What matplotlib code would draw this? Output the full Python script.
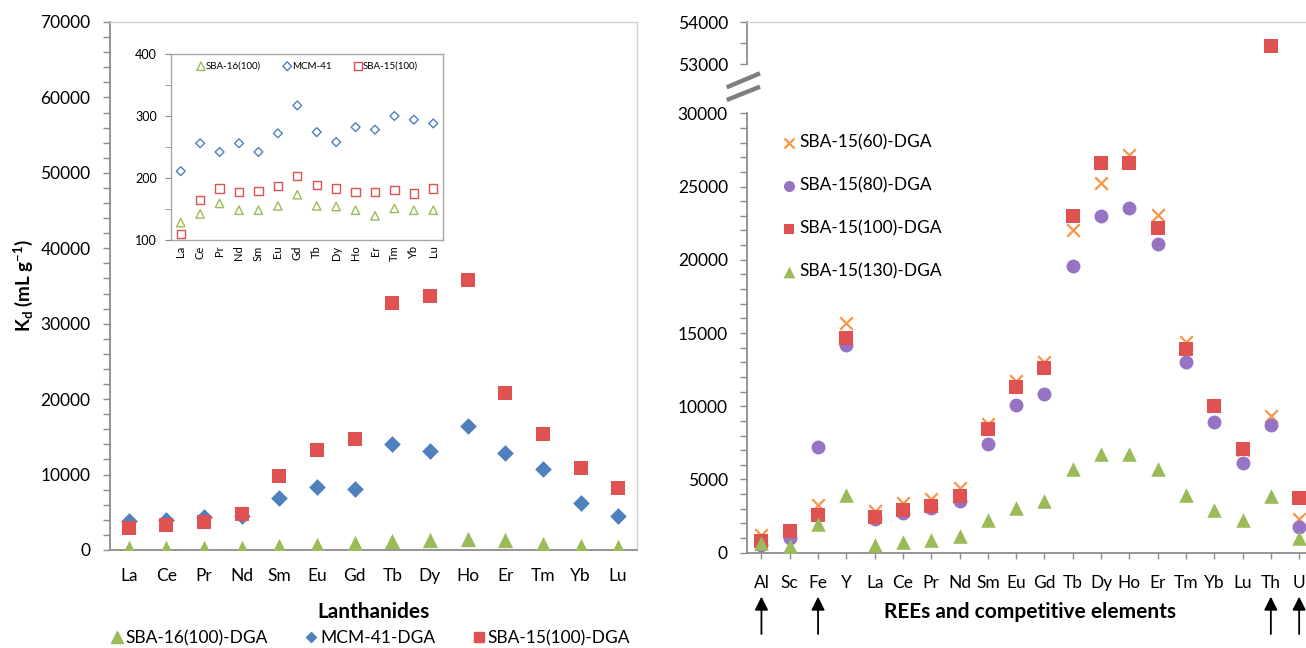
import matplotlib
matplotlib.use('Agg')
import matplotlib.pyplot as plt
from matplotlib.ticker import MultipleLocator
from matplotlib.lines import Line2D

plt.rcParams['font.family'] = ['Lato', 'DejaVu Sans']
plt.rcParams['mathtext.fontset'] = 'custom'
plt.rcParams['mathtext.rm'] = 'Lato'
plt.rcParams['mathtext.bf'] = 'Lato:bold'
plt.rcParams['mathtext.it'] = 'Lato:italic'

# ---------------- data ----------------
lanthanides = ['La', 'Ce', 'Pr', 'Nd', 'Sm', 'Eu', 'Gd', 'Tb', 'Dy', 'Ho', 'Er', 'Tm', 'Yb', 'Lu']
sba16_100_dga = [300, 300, 300, 300, 530, 700, 880, 1190, 1330, 1500, 1370, 840, 570, 400]
mcm41_dga = [3900, 4000, 4400, 4500, 6850, 8320, 8050, 14020, 13170, 16490, 12910, 10750, 6190, 4550]
sba15_100_dga = [2880, 3280, 3760, 4730, 9820, 13220, 14680, 32720, 33650, 35770, 20830, 15350, 10920, 8180]

inset_sba16 = [128, 142, 159, 148, 148, 155, 173, 155, 154, 148, 139, 151, 148, 148]
inset_mcm41 = [211, 256, 242, 256, 242, 272, 317, 274, 258, 282, 278, 300, 294, 288]
inset_sba15 = [110, 165, 183, 177, 179, 187, 203, 189, 183, 177, 177, 181, 175, 183]

elements = ['Al', 'Sc', 'Fe', 'Y', 'La', 'Ce', 'Pr', 'Nd', 'Sm', 'Eu', 'Gd', 'Tb', 'Dy', 'Ho',
            'Er', 'Tm', 'Yb', 'Lu', 'Th', 'U']
sba15_60 = [1200, 1300, 3270, 15680, 2860, 3380, 3650, 4400, 8800, 11730, 13010, 22050, 25250,
            27150, 23040, 14370, 10000, 7000, 9360, 2320]
sba15_80 = [500, 1000, 7220, 14160, 2300, 2700, 3050, 3500, 7400, 10100, 10830, 19570, 22990,
            23560, 21100, 13010, 8950, 6140, 8730, 1740]
sba15_100 = [790, 1470, 2590, 14660, 2410, 2890, 3160, 3900, 8460, 11340, 12610, 22970, 26620,
             26620, 22170, 13940, 10040, 7060, 53440, 3720]
sba15_130 = [680, 450, 1960, 3950, 520, 740, 900, 1130, 2260, 3050, 3500, 5710, 6720, 6720,
             5710, 3950, 2890, 2210, 3900, 1020]
arrow_elements = ['Al', 'Fe', 'Th', 'U']

# ---------------- styles ----------------
GREEN = '#9BBB59'
BLUE = '#4F81BD'
RED = '#E05252'
PURPLE = '#9673C3'
ORANGE = '#F79646'
DARK_SPINE = '#8C8C8C'
LIGHT_SPINE = '#D0D0D0'

W, H = 1306, 648
fig = plt.figure(figsize=(W / 100, H / 100), dpi=100)


def px_axes(l, t, r, b):
    return [l / W, 1 - b / H, (r - l) / W, (b - t) / H]


# ---------------- left chart ----------------
axL = fig.add_axes(px_axes(110, 22, 637, 550))
xl = list(range(len(lanthanides)))
axL.scatter(xl, sba16_100_dga, marker='^', s=11 ** 2, color=GREEN, zorder=3, linewidths=0)
axL.scatter(xl, mcm41_dga, marker='D', s=8.5 ** 2, color=BLUE, zorder=4, linewidths=0)
axL.scatter(xl, sba15_100_dga, marker='s', s=10.5 ** 2, color=RED, zorder=5, linewidths=0)
axL.set_xlim(-0.5, len(lanthanides) - 0.5)
axL.set_ylim(0, 70000)
axL.yaxis.set_major_locator(MultipleLocator(10000))
axL.yaxis.set_minor_locator(MultipleLocator(2000))
axL.set_xticks(xl)
axL.set_xticklabels(lanthanides)
axL.tick_params(axis='x', length=0, pad=13, labelsize=12.5)
axL.tick_params(axis='y', which='major', length=5, width=1, color=DARK_SPINE, pad=9, labelsize=12.5)
axL.tick_params(axis='y', which='minor', length=5, width=1, color=DARK_SPINE)
for s in ['left', 'bottom']:
    axL.spines[s].set_color(DARK_SPINE)
    axL.spines[s].set_linewidth(1.3)
for s in ['top', 'right']:
    axL.spines[s].set_color(LIGHT_SPINE)
    axL.spines[s].set_linewidth(1.0)
axL.set_xlabel('Lanthanides', fontsize=15, fontweight='bold', labelpad=13)
axL.set_ylabel(r'$\mathbf{K_{d}}$ (mL g$^{\mathbf{-1}}$)', fontsize=13.5, fontweight='bold', labelpad=4)

leg_handles = [
    Line2D([], [], marker='^', ls='none', color=GREEN, markersize=8.5),
    Line2D([], [], marker='D', ls='none', color=BLUE, markersize=5.5),
    Line2D([], [], marker='s', ls='none', color=RED, markersize=7.5),
]
fig.legend(leg_handles, ['SBA-16(100)-DGA', 'MCM-41-DGA', 'SBA-15(100)-DGA'],
           loc='center', bbox_to_anchor=(369 / W, 1 - 638 / H), ncol=3, frameon=False,
           fontsize=12.5, handletextpad=0.0, columnspacing=2.0, handlelength=1.0,
           borderpad=0)

# ---------------- inset ----------------
axI = fig.add_axes(px_axes(171, 54, 443, 240))
axI.scatter(xl, inset_sba16, marker='^', s=6 ** 2, facecolors='none', edgecolors=GREEN,
            linewidths=1.0, zorder=3, label='SBA-16(100)')
axI.scatter(xl, inset_mcm41, marker='D', s=4.5 ** 2, facecolors='none', edgecolors=BLUE,
            linewidths=1.0, zorder=3, label='MCM-41')
axI.scatter(xl, inset_sba15, marker='s', s=6 ** 2, facecolors='none', edgecolors=RED,
            linewidths=1.0, zorder=3, label='SBA-15(100)')
axI.set_xlim(-0.5, len(lanthanides) - 0.5)
axI.set_ylim(100, 400)
axI.yaxis.set_major_locator(MultipleLocator(100))
axI.yaxis.set_minor_locator(MultipleLocator(50))
axI.set_xticks(xl)
axI.set_xticklabels(lanthanides, rotation=90, fontsize=8)
axI.tick_params(axis='x', length=0, pad=4)
axI.tick_params(axis='y', which='both', length=4, color=DARK_SPINE, labelsize=9, pad=6)
for s in axI.spines.values():
    s.set_color('#A6A6A6')
    s.set_linewidth(1.0)
axI.legend(loc='upper center', ncol=3, fontsize=7, frameon=False, handletextpad=0.0,
           columnspacing=2.2, handlelength=1.0, borderpad=0.3, bbox_to_anchor=(0.5, 1.0))

# ---------------- right chart (broken axis) ----------------
R_LEFT, R_RIGHT = 747.3, 1313.3
axT = fig.add_axes(px_axes(R_LEFT, 22.3, R_RIGHT, 64.3))
axB = fig.add_axes(px_axes(R_LEFT, 113.3, R_RIGHT, 552.7))
xe = list(range(len(elements)))
for ax in (axT, axB):
    ax.scatter(xe, sba15_60, marker='x', s=9 ** 2, color=ORANGE, linewidths=1.6, zorder=3,
               label='SBA-15(60)-DGA')
    ax.scatter(xe, sba15_80, marker='o', s=10 ** 2, color=PURPLE, linewidths=0, zorder=4,
               label='SBA-15(80)-DGA')
    ax.scatter(xe, sba15_100, marker='s', s=9.5 ** 2, color=RED, linewidths=0, zorder=5,
               label='SBA-15(100)-DGA')
    ax.scatter(xe, sba15_130, marker='^', s=10.5 ** 2, color=GREEN, linewidths=0, zorder=6,
               label='SBA-15(130)-DGA')
    ax.set_xlim(-0.5, len(elements) - 0.5)
    ax.spines['right'].set_visible(False)
    ax.spines['left'].set_color(DARK_SPINE)
    ax.spines['left'].set_linewidth(1.3)
    ax.tick_params(axis='y', which='both', length=5, width=1, color=DARK_SPINE, pad=9,
                   labelsize=12.5)

axT.set_ylim(53000, 54000)
axT.yaxis.set_major_locator(MultipleLocator(1000))
axT.yaxis.set_minor_locator(MultipleLocator(500))
axT.spines['bottom'].set_visible(False)
axT.spines['top'].set_color(LIGHT_SPINE)
axT.spines['top'].set_linewidth(1.0)
axT.set_xticks([])

axB.set_ylim(0, 30000)
axB.yaxis.set_major_locator(MultipleLocator(5000))
axB.yaxis.set_minor_locator(MultipleLocator(1000))
axB.spines['top'].set_visible(False)
axB.spines['bottom'].set_color(DARK_SPINE)
axB.spines['bottom'].set_linewidth(1.3)
axB.set_xticks(xe)
axB.set_xticklabels(elements)
axB.tick_params(axis='x', length=4, width=1, color=DARK_SPINE, pad=12, labelsize=12.5)
axB.set_xlabel('REEs and competitive elements', fontsize=15, fontweight='bold', labelpad=8)

h, lab = axB.get_legend_handles_labels()
axB.legend(h, lab, loc='upper left', bbox_to_anchor=(0.04, 0.972), frameon=False,
           fontsize=12.5, labelspacing=1.55, handletextpad=0.0, handlelength=1.2,
           borderpad=0, markerscale=0.8)

# arrows under competitive elements
trans = axB.get_xaxis_transform()
for el in arrow_elements:
    i = elements.index(el)
    axB.annotate('', xy=(i, -0.100), xytext=(i, -0.185), xycoords=trans, textcoords=trans,
                 annotation_clip=False,
                 arrowprops=dict(arrowstyle='-|>', color='black', lw=1.3, mutation_scale=20,
                                 shrinkA=0, shrinkB=0))

# axis-break marks
for (x0, y0, x1, y1) in [(726.7, 87.3, 760, 73.3), (726.7, 100.0, 760, 86.7)]:
    fig.add_artist(Line2D([x0 / W, x1 / W], [1 - y0 / H, 1 - y1 / H], color='#7F7F7F',
                          lw=3.2, solid_capstyle='butt'))

fig.savefig('out.png', dpi=100)
